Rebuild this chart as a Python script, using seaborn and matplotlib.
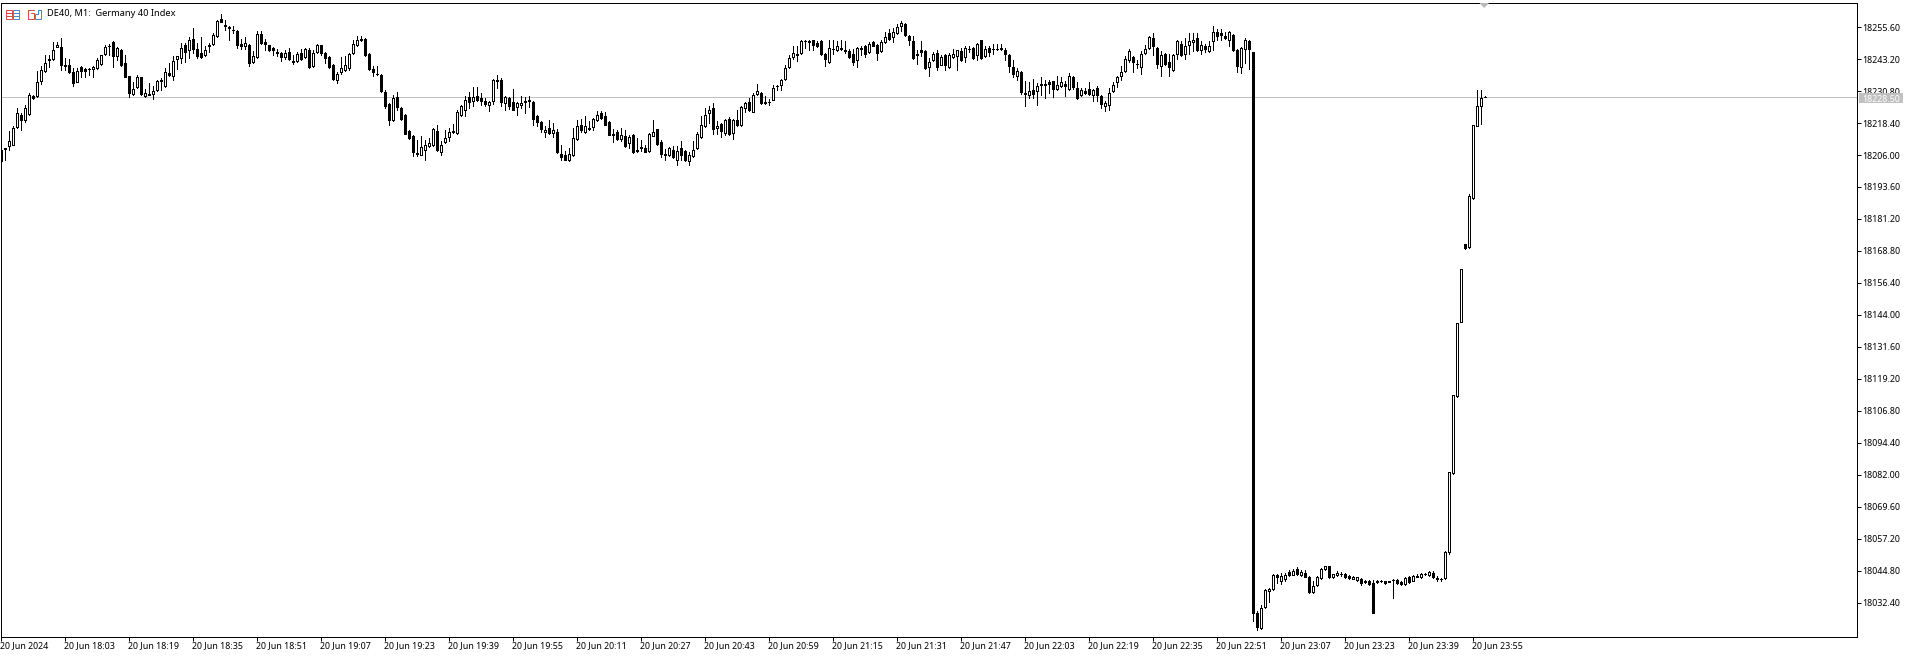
import matplotlib
matplotlib.use("Agg")
import matplotlib.pyplot as plt
from matplotlib.patches import Rectangle, Polygon
from matplotlib.lines import Line2D
import numpy as np
import pandas as pd
import seaborn as sns

W, H = 1914, 657

opens = [
18208.1,18208.6,18209.4,18210.0,18216.8,18221.5,18219.4,18222.0,18228.7,18228.7,
18234.8,18238.4,18243.2,18243.3,18247.7,18247.9,18240.7,18240.9,18238.2,18234.3,
18240.1,18239.3,18239.5,18239.5,18239.7,18241.4,18245.1,18248.1,18249.8,18244.2,
18246.8,18241.7,18236.5,18229.6,18232.4,18236.1,18228.7,18229.6,18229.8,18231.1,
18235.2,18232.6,18237.8,18236.5,18243.3,18243.6,18248.8,18246.8,18250.9,18247.2,
18245.5,18244.9,18248.8,18249.0,18252.0,18258.7,18256.5,18255.6,18254.6,18253.9,
18249.1,18248.4,18248.8,18242.0,18244.0,18252.9,18249.7,18248.5,18247.5,18245.9,
18245.5,18243.8,18245.9,18242.6,18242.3,18245.5,18244.0,18246.8,18240.4,18245.9,
18248.5,18245.5,18244.0,18241.0,18235.2,18238.2,18238.8,18239.7,18245.5,18248.5,
18251.1,18251.1,18245.1,18239.5,18237.3,18237.1,18230.5,18225.9,18219.4,18228.5,
18224.2,18221.6,18215.2,18213.5,18206.8,18206.1,18208.1,18209.4,18209.7,18215.4,
18207.2,18210.9,18212.8,18215.2,18214.5,18221.6,18223.3,18228.3,18226.8,18228.7,
18228.1,18227.1,18225.2,18226.8,18234.9,18235.2,18226.1,18228.1,18226.4,18224.6,
18225.2,18226.9,18227.4,18226.7,18221.2,18218.6,18214.8,18216.5,18214.5,18215.0,
18206.5,18206.1,18203.9,18205.9,18212.2,18217.6,18214.8,18216.5,18216.8,18219.7,
18222.3,18221.2,18218.6,18214.3,18214.8,18212.2,18213.2,18210.6,18213.9,18208.1,
18209.2,18208.6,18207.4,18213.5,18216.1,18211.0,18206.5,18205.9,18208.1,18203.9,
18208.7,18207.4,18203.5,18205.5,18208.7,18212.8,18217.1,18222.3,18224.2,18216.3,
18218.0,18214.5,18220.1,18214.5,18219.7,18217.8,18224.2,18226.5,18222.8,18229.6,
18230.0,18226.7,18226.6,18227.4,18232.9,18233.0,18235.5,18240.0,18243.8,18245.3,
18245.5,18250.2,18250.2,18250.6,18249.4,18250.1,18245.3,18242.0,18247.2,18246.6,
18247.5,18246.8,18246.2,18245.3,18242.7,18247.6,18248.4,18245.8,18249.8,18248.8,
18246.2,18249.8,18253.3,18251.6,18253.3,18255.9,18256.9,18252.2,18250.2,18245.3,
18246.6,18246.4,18240.0,18242.7,18245.5,18241.0,18244.9,18240.1,18244.0,18244.2,
18246.4,18244.0,18247.2,18247.6,18244.6,18250.4,18244.5,18247.5,18246.9,18247.1,
18247.5,18246.8,18244.9,18240.1,18236.7,18238.3,18230.0,18229.1,18231.3,18230.7,
18233.6,18233.6,18234.4,18234.5,18231.6,18232.6,18233.6,18231.4,18236.4,18232.0,
18229.2,18230.9,18231.7,18229.4,18232.1,18229.0,18224.9,18225.5,18230.7,18234.2,
18236.5,18238.4,18242.7,18244.0,18241.4,18240.0,18245.5,18247.5,18251.3,18247.5,
18240.4,18245.1,18242.0,18238.8,18245.1,18249.1,18245.0,18248.5,18249.7,18251.5,
18246.6,18248.4,18246.3,18250.2,18253.5,18253.3,18252.1,18250.7,18252.6,18246.8,
18240.1,18247.2,18250.2,18246.0,18028.7,18022.7,18030.7,18036.9,18037.9,18043.3,
18040.8,18041.7,18044.4,18043.3,18045.5,18043.2,18044.2,18042.6,18036.5,18039.2,
18042.0,18045.5,18046.8,18042.6,18043.1,18043.8,18043.6,18043.0,18041.8,18041.4,
18041.8,18041.0,18040.9,18040.1,18040.8,18040.9,18040.9,18040.8,18041.3,18041.4,
18040.4,18039.7,18042.3,18041.1,18042.7,18042.4,18043.6,18043.2,18044.2,18042.2,
18041.6,18042.0,18052.1,18082.8,18112.5,18141.3,18171.6,18170.2,18189.4,18217.4,
18224.9,18228.3,
]
highs = [
18208.7,18208.7,18215.2,18217.1,18224.2,18222.3,18225.5,18230.0,18229.4,18238.4,
18240.4,18244.9,18244.9,18249.8,18249.8,18251.3,18243.6,18243.3,18239.7,18239.7,
18240.4,18239.7,18239.7,18240.4,18243.6,18244.9,18248.8,18249.0,18250.1,18247.9,
18247.1,18244.6,18236.8,18234.2,18237.1,18236.2,18231.6,18233.9,18232.9,18235.2,
18235.8,18239.7,18241.7,18244.2,18244.5,18249.4,18249.4,18251.7,18255.2,18249.4,
18251.7,18248.4,18249.4,18253.3,18258.2,18260.6,18258.4,18255.9,18255.9,18254.6,
18250.9,18251.7,18249.0,18246.2,18253.9,18253.9,18250.9,18248.8,18247.7,18247.1,
18245.8,18246.8,18247.5,18244.9,18245.8,18247.1,18247.5,18247.5,18246.8,18249.0,
18248.8,18245.8,18244.2,18241.3,18238.0,18244.0,18244.2,18245.5,18250.7,18252.0,
18252.2,18251.3,18245.5,18240.6,18240.6,18237.4,18231.3,18226.1,18229.4,18230.4,
18224.6,18221.9,18215.8,18213.9,18211.9,18213.2,18211.9,18212.6,18216.5,18217.5,
18211.3,18215.8,18216.5,18218.1,18223.3,18225.5,18229.0,18230.3,18232.4,18232.2,
18230.0,18228.1,18227.0,18235.5,18237.1,18235.8,18228.7,18228.3,18231.6,18226.5,
18228.7,18228.3,18228.7,18226.8,18221.6,18219.0,18217.4,18219.4,18218.4,18216.1,
18210.0,18207.4,18208.7,18216.5,18219.4,18219.9,18221.0,18219.0,18220.3,18222.9,
18222.9,18222.7,18219.0,18216.1,18215.8,18216.5,18215.8,18213.9,18214.1,18212.6,
18211.9,18210.0,18214.5,18219.7,18216.2,18211.9,18208.3,18209.0,18209.4,18209.4,
18211.6,18208.1,18207.0,18211.3,18214.8,18221.0,18224.2,18225.1,18226.1,18219.0,
18218.4,18219.9,18220.7,18219.9,18223.6,18224.9,18226.5,18228.1,18230.0,18233.6,
18230.3,18228.7,18227.7,18233.3,18233.3,18235.5,18241.0,18244.9,18248.4,18248.4,
18250.4,18250.7,18250.4,18250.7,18250.1,18250.4,18245.5,18250.7,18250.4,18250.1,
18250.4,18250.1,18247.2,18247.1,18247.7,18248.1,18248.8,18249.7,18250.3,18249.0,
18250.4,18253.5,18254.8,18255.2,18256.9,18257.8,18257.2,18252.6,18252.2,18246.8,
18250.2,18246.6,18243.6,18245.8,18246.8,18244.9,18245.1,18245.5,18247.1,18246.8,
18247.5,18248.1,18248.4,18247.9,18249.4,18250.7,18248.1,18248.1,18249.0,18249.1,
18249.1,18247.5,18245.1,18242.9,18239.7,18238.6,18234.5,18234.3,18235.6,18233.9,
18236.2,18234.9,18234.9,18234.8,18236.7,18236.2,18234.5,18237.8,18236.7,18234.3,
18232.0,18232.0,18234.2,18231.6,18232.6,18229.4,18226.8,18232.0,18234.2,18236.7,
18240.6,18244.2,18247.1,18244.2,18242.9,18246.2,18248.8,18252.2,18253.3,18247.7,
18246.2,18245.5,18245.1,18245.1,18250.4,18250.1,18251.3,18253.3,18253.3,18253.3,
18250.1,18249.1,18250.1,18256.1,18254.8,18254.8,18253.7,18254.2,18252.9,18247.1,
18247.7,18251.3,18250.4,18246.0,18029.1,18031.7,18037.8,18038.2,18043.5,18043.6,
18044.0,18044.2,18045.3,18045.7,18046.3,18045.3,18045.0,18042.7,18040.8,18042.9,
18045.8,18046.8,18046.9,18043.6,18044.6,18044.4,18043.9,18043.3,18042.7,18042.4,
18042.0,18041.4,18041.4,18041.4,18041.4,18041.3,18041.1,18041.1,18041.6,18041.6,
18040.9,18042.3,18042.7,18043.1,18043.5,18044.0,18043.9,18044.6,18044.6,18042.7,
18041.9,18052.4,18083.2,18113.1,18141.0,18161.9,18171.7,18190.7,18217.7,18231.3,
18231.0,18228.9,
]
lows = [
18203.5,18204.2,18208.1,18209.7,18216.5,18215.6,18218.7,18221.6,18227.8,18228.5,
18233.5,18238.2,18240.0,18242.9,18247.7,18239.1,18239.1,18237.8,18232.6,18234.2,
18236.2,18236.2,18237.1,18236.2,18239.5,18241.0,18244.9,18244.9,18240.0,18242.9,
18240.4,18236.1,18228.5,18229.4,18232.0,18229.4,18228.5,18229.4,18227.8,18230.7,
18231.3,18232.4,18236.5,18235.2,18239.5,18241.7,18242.0,18243.6,18245.5,18243.6,
18243.6,18244.2,18245.8,18248.8,18251.7,18257.4,18254.6,18250.4,18253.3,18247.5,
18247.1,18247.1,18240.4,18241.7,18243.6,18249.0,18246.6,18246.3,18244.9,18244.5,
18242.3,18243.3,18242.7,18241.4,18241.9,18242.9,18243.6,18239.7,18240.1,18245.5,
18244.9,18241.7,18239.7,18235.2,18233.9,18237.4,18238.4,18238.8,18245.3,18248.1,
18250.1,18244.2,18238.8,18236.5,18237.1,18230.3,18224.2,18217.8,18219.2,18223.6,
18219.7,18214.0,18212.2,18205.7,18205.5,18205.9,18204.2,18209.0,18209.4,18207.4,
18206.1,18210.6,18211.3,18214.5,18214.3,18221.2,18221.0,18224.2,18225.1,18226.8,
18225.5,18224.9,18222.9,18225.9,18232.0,18224.9,18223.6,18223.8,18223.3,18221.6,
18224.2,18222.3,18224.5,18217.8,18217.1,18214.8,18212.8,18214.3,18213.0,18206.8,
18204.2,18203.9,18203.8,18205.5,18211.9,18214.8,18214.5,18215.6,18215.6,18219.0,
18219.9,18217.5,18213.6,18210.9,18211.9,18211.3,18209.1,18208.7,18206.8,18207.0,
18207.4,18207.0,18207.0,18213.2,18210.0,18205.1,18204.2,18205.5,18204.8,18202.0,
18204.2,18203.5,18202.0,18205.2,18208.4,18212.6,18216.8,18218.4,18214.3,18214.3,
18212.8,18213.9,18213.6,18212.3,18217.4,18217.1,18222.5,18222.9,18222.5,18229.4,
18225.6,18225.9,18225.5,18227.2,18231.1,18231.3,18235.2,18239.7,18243.2,18242.6,
18245.3,18247.5,18246.6,18246.6,18247.7,18244.9,18240.4,18241.7,18245.3,18246.2,
18246.6,18245.5,18243.7,18241.0,18240.0,18244.9,18243.8,18245.5,18248.1,18242.9,
18245.9,18249.4,18250.4,18249.7,18253.0,18253.9,18252.2,18248.8,18243.2,18241.3,
18244.5,18239.3,18236.7,18242.3,18238.8,18240.7,18239.1,18239.7,18243.6,18238.8,
18242.3,18241.9,18245.8,18243.2,18242.9,18243.3,18244.0,18244.2,18245.3,18246.8,
18246.6,18242.9,18238.0,18236.1,18234.9,18229.5,18224.9,18228.1,18228.1,18225.5,
18229.4,18227.9,18230.0,18228.3,18231.3,18232.4,18229.0,18231.1,18231.6,18227.8,
18229.0,18229.5,18229.4,18226.8,18226.8,18224.1,18222.9,18223.3,18230.3,18232.4,
18235.2,18238.2,18241.9,18238.0,18239.7,18237.5,18245.3,18247.2,18244.9,18239.7,
18236.7,18240.7,18236.5,18238.6,18243.3,18244.5,18243.3,18245.3,18246.2,18246.4,
18245.3,18245.8,18245.9,18246.8,18250.4,18250.4,18250.9,18248.1,18246.4,18238.3,
18237.8,18241.7,18239.5,18025.6,18021.8,18022.4,18030.4,18032.9,18037.6,18040.1,
18039.7,18041.1,18043.0,18043.1,18043.3,18042.7,18042.3,18036.2,18036.2,18039.1,
18041.8,18045.3,18042.0,18042.0,18042.7,18043.0,18042.0,18041.7,18041.7,18041.1,
18039.3,18040.0,18039.2,18028.5,18040.1,18040.4,18039.7,18040.4,18034.5,18039.8,
18039.3,18039.5,18040.1,18040.9,18042.3,18042.2,18043.3,18043.0,18042.0,18041.1,
18040.9,18041.5,18051.4,18082.5,18112.3,18141.1,18169.7,18170.1,18189.0,18217.1,
18218.2,18228.3,
]
closes = [
18203.5,18208.4,18211.3,18216.5,18222.3,18219.7,18224.2,18229.4,18228.2,18234.3,
18238.8,18241.7,18242.8,18246.6,18248.5,18240.7,18240.4,18238.2,18233.9,18238.7,
18238.7,18238.6,18239.5,18240.1,18242.9,18244.6,18247.9,18248.1,18244.2,18247.5,
18240.7,18236.2,18230.0,18231.6,18236.2,18229.5,18230.0,18229.4,18230.7,18234.8,
18234.8,18238.2,18237.1,18242.6,18244.2,18247.5,18245.8,18250.7,18247.2,18244.2,
18244.0,18246.8,18248.2,18252.6,18257.8,18257.5,18255.9,18255.4,18254.4,18248.5,
18248.1,18249.4,18241.7,18244.2,18252.9,18249.4,18249.0,18246.6,18246.8,18245.4,
18244.0,18245.5,18243.2,18241.9,18245.1,18243.3,18247.2,18240.0,18245.5,18248.8,
18245.5,18243.5,18240.1,18235.6,18237.5,18239.7,18241.0,18245.1,18249.0,18250.7,
18250.4,18244.6,18239.5,18238.2,18237.2,18230.7,18224.9,18219.7,18228.1,18224.6,
18220.1,18214.3,18212.6,18207.2,18206.3,18209.0,18209.7,18210.6,18216.1,18207.8,
18210.0,18212.6,18214.9,18214.8,18222.7,18224.9,18227.2,18226.4,18228.5,18227.4,
18226.8,18225.9,18226.5,18235.2,18234.8,18226.4,18228.5,18224.9,18223.6,18226.1,
18226.1,18226.5,18226.9,18220.1,18218.6,18216.1,18215.8,18214.5,18215.8,18207.0,
18205.2,18204.2,18206.5,18212.6,18217.4,18215.6,18217.4,18215.9,18219.9,18221.6,
18220.3,18217.8,18213.9,18213.7,18212.3,18213.9,18209.6,18213.0,18207.0,18207.4,
18208.6,18207.3,18214.1,18214.9,18210.4,18206.4,18206.0,18208.7,18205.2,18207.4,
18206.1,18203.9,18206.1,18208.1,18214.3,18217.6,18221.6,18223.3,18216.1,18217.4,
18215.4,18219.7,18214.1,18219.4,18217.6,18224.6,18226.1,18223.3,18229.4,18230.8,
18226.1,18226.3,18226.5,18232.0,18232.9,18235.1,18239.7,18243.5,18245.5,18244.9,
18250.1,18250.2,18249.9,18248.8,18248.1,18245.3,18243.2,18247.5,18247.2,18248.1,
18246.9,18246.2,18244.0,18241.9,18247.5,18247.1,18245.3,18249.0,18248.4,18245.5,
18249.8,18251.7,18251.1,18253.7,18255.6,18257.2,18252.4,18250.4,18243.6,18244.8,
18246.0,18239.6,18242.0,18245.1,18240.1,18244.0,18241.0,18244.9,18245.0,18246.6,
18242.9,18247.5,18247.1,18243.6,18249.0,18243.6,18247.1,18246.0,18246.9,18247.1,
18246.9,18245.1,18240.4,18237.5,18238.6,18230.5,18229.5,18230.7,18229.8,18232.6,
18233.0,18233.1,18233.4,18231.7,18233.1,18234.3,18232.6,18236.6,18232.2,18228.0,
18231.3,18230.0,18229.8,18231.3,18229.1,18225.6,18226.1,18230.0,18233.1,18236.2,
18238.0,18243.3,18246.3,18241.9,18241.3,18245.1,18247.1,18251.7,18248.4,18241.3,
18244.9,18241.4,18240.0,18244.9,18250.0,18244.8,18248.2,18250.2,18250.4,18246.8,
18248.5,18246.9,18248.2,18253.8,18252.0,18252.4,18251.2,18253.7,18246.8,18240.4,
18247.3,18250.4,18247.1,18028.5,18023.0,18030.4,18037.5,18037.8,18043.2,18042.3,
18042.7,18043.2,18043.3,18044.9,18043.7,18044.4,18042.6,18036.5,18038.8,18042.4,
18045.5,18046.6,18042.3,18043.5,18044.2,18043.7,18042.3,18042.0,18042.4,18042.3,
18040.1,18040.4,18039.6,18028.7,18040.7,18040.9,18040.1,18040.7,18041.2,18040.1,
18039.7,18041.9,18040.6,18042.7,18042.6,18043.5,18043.6,18044.4,18042.3,18041.7,
18041.5,18052.1,18083.1,18113.0,18140.9,18161.8,18169.8,18190.3,18217.6,18225.0,
18228.1,18228.5,
]

y_ticks = [18255.60, 18243.20, 18230.80, 18218.40, 18206.00, 18193.60, 18181.20,
           18168.80, 18156.40, 18144.00, 18131.60, 18119.20, 18106.80, 18094.40,
           18082.00, 18069.60, 18057.20, 18044.80, 18032.40]
x_tick_labels = ["20 Jun 2024", "20 Jun 18:03", "20 Jun 18:19", "20 Jun 18:35", "20 Jun 18:51",
                 "20 Jun 19:07", "20 Jun 19:23", "20 Jun 19:39", "20 Jun 19:55", "20 Jun 20:11",
                 "20 Jun 20:27", "20 Jun 20:43", "20 Jun 20:59", "20 Jun 21:15", "20 Jun 21:31",
                 "20 Jun 21:47", "20 Jun 22:03", "20 Jun 22:19", "20 Jun 22:35", "20 Jun 22:51",
                 "20 Jun 23:07", "20 Jun 23:23", "20 Jun 23:39", "20 Jun 23:55"]
last_price = 18228.50

n = min(len(opens), len(highs), len(lows), len(closes))
bars = np.arange(n)
o = np.array(opens[:n])
c = np.array(closes[:n])

sns.set_style("white")
plt.rcParams['font.family'] = ['Noto Sans', 'DejaVu Sans']
px_lw = 0.72


def fx(x):
    return x / W


def fy(y):
    return 1 - y / H


fig = plt.figure(figsize=(W / 100, H / 100), dpi=100)
ax = fig.add_axes([fx(0.5), fy(636.5), fx(1856), (636.5 - 2.5) / H])

# wicks, one line per bar
wicks = pd.DataFrame({
    'bar': np.concatenate([bars, bars]),
    'price': np.concatenate([highs[:n], lows[:n]]),
})
sns.lineplot(data=wicks, x='bar', y='price', units='bar', estimator=None, sort=False,
             color='black', lw=px_lw, solid_capstyle='butt', antialiased=False, ax=ax, zorder=2)

# bodies
colors = np.where(c >= o, 'white', 'black')
ax.bar(bars, np.abs(c - o), bottom=np.minimum(o, c), width=0.5, color=colors,
       edgecolor='black', linewidth=px_lw, zorder=3, antialiased=False)

ax.axhline(last_price, color='#c0c0c0', lw=px_lw, zorder=1, antialiased=False)

ax.set_xlim(0, 464)
ax.set_ylim(18019.4, 18265.1)
ax.set_xlabel('')
ax.set_ylabel('')

ax.yaxis.tick_right()
ax.set_yticks(y_ticks)
ax.set_yticklabels(['%.2f' % v for v in y_ticks], va='center_baseline')
ax.set_xticks(np.arange(len(x_tick_labels)) * 16)
ax.set_xticklabels(x_tick_labels, ha='left')
ax.tick_params(axis='y', length=3, width=px_lw, pad=1.2, labelsize=6.4, colors='black', right=True)
ax.tick_params(axis='x', length=3, width=px_lw, pad=0.4, labelsize=6.4, colors='black', bottom=True)
for s in ax.spines.values():
    s.set_visible(True)
    s.set_color('black')
    s.set_linewidth(px_lw)

# last price tag on the axis
fig.add_artist(Rectangle((fx(1859), fy(103)), 44 / W, 10 / H, transform=fig.transFigure,
                         facecolor='#c0c0c0', edgecolor='none', zorder=3))
fig.text(fx(1862), fy(98), '%.2f' % last_price, color='white', fontsize=6.4, va='center_baseline', ha='left', zorder=4)

# shift marker at the top
fig.add_artist(Polygon([(fx(1479.5), fy(3)), (fx(1489), fy(3)), (fx(1484.2), fy(8))], closed=True,
                       facecolor='#b8b8b8', edgecolor='none', transform=fig.transFigure, zorder=3))

# toolbar icons and symbol caption
red = '#d0504a'
blue = '#3f8fd0'
fig.add_artist(Rectangle((fx(5.5), fy(18.5)), 6 / W, 9 / H, fill=False, edgecolor=red, lw=px_lw, transform=fig.transFigure))
fig.add_artist(Rectangle((fx(12.5), fy(18.5)), 6 / W, 9 / H, fill=False, edgecolor=blue, lw=px_lw, transform=fig.transFigure))
for yy in [12.5, 15.5]:
    fig.add_artist(Line2D([fx(5.5), fx(11.5)], [fy(yy), fy(yy)], color=red, lw=px_lw, transform=fig.transFigure))
    fig.add_artist(Line2D([fx(12.5), fx(18.5)], [fy(yy), fy(yy)], color=blue, lw=px_lw, transform=fig.transFigure))
fig.add_artist(Line2D([fx(33.5), fx(27.5), fx(27.5), fx(33.5), fx(33.5), fx(30.5)],
                      [fy(9.5), fy(9.5), fy(18.5), fy(18.5), fy(12.5), fy(12.5)],
                      color=red, lw=px_lw, transform=fig.transFigure))
fig.add_artist(Line2D([fx(37.5), fx(40.5), fx(40.5), fx(34.5), fx(34.5), fx(37.5), fx(37.5)],
                      [fy(9.5), fy(9.5), fy(18.5), fy(18.5), fy(13.5), fy(13.5), fy(9.5)],
                      color=blue, lw=px_lw, transform=fig.transFigure))
fig.text(fx(47), fy(13.8), 'DE40, M1:  Germany 40 Index', color='black', fontsize=6.65, va='center', ha='left')

fig.savefig('out.png', dpi=100, facecolor='white')
